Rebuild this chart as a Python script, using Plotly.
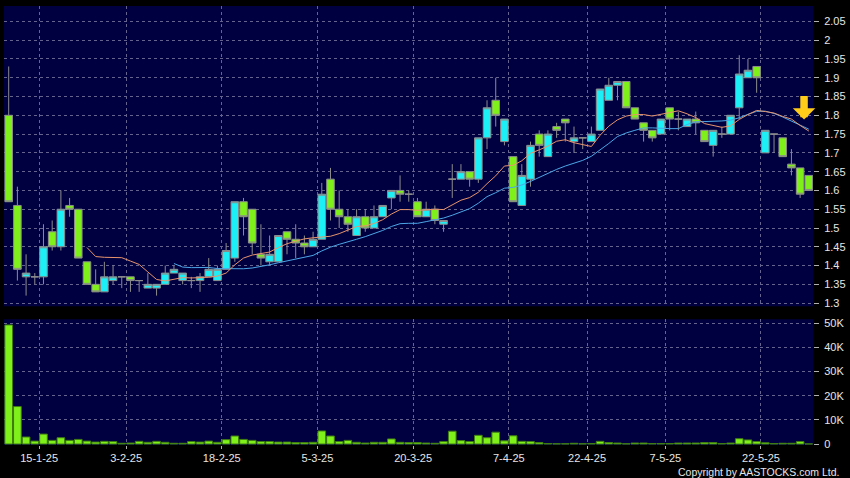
import plotly.graph_objects as go
import pandas as pd

# ---------------- data ----------------
dates = [
    "10-1-25", "13-1-25", "14-1-25", "15-1-25", "16-1-25", "17-1-25", "20-1-25", "21-1-25", "22-1-25",
    "23-1-25", "24-1-25", "27-1-25", "28-1-25",
    "3-2-25", "4-2-25", "5-2-25", "6-2-25", "7-2-25", "10-2-25", "11-2-25", "12-2-25", "13-2-25",
    "14-2-25", "17-2-25", "18-2-25", "19-2-25", "20-2-25", "21-2-25", "24-2-25", "25-2-25", "26-2-25",
    "27-2-25", "28-2-25",
    "3-3-25", "4-3-25", "5-3-25", "6-3-25", "7-3-25", "10-3-25", "11-3-25", "12-3-25", "13-3-25",
    "14-3-25", "17-3-25", "18-3-25", "19-3-25", "20-3-25", "21-3-25", "24-3-25", "25-3-25", "26-3-25",
    "27-3-25", "28-3-25", "31-3-25",
    "1-4-25", "2-4-25", "3-4-25", "7-4-25", "8-4-25", "9-4-25", "10-4-25", "11-4-25", "14-4-25",
    "15-4-25", "16-4-25", "17-4-25", "22-4-25", "23-4-25", "24-4-25", "25-4-25", "28-4-25", "29-4-25",
    "30-4-25",
    "2-5-25", "6-5-25", "7-5-25", "8-5-25", "9-5-25", "12-5-25", "13-5-25", "14-5-25", "15-5-25",
    "16-5-25", "19-5-25", "20-5-25", "21-5-25", "22-5-25", "23-5-25", "26-5-25", "27-5-25", "28-5-25",
    "29-5-25", "30-5-25",
]

open_ = [
    1.80, 1.56, 1.37, 1.37, 1.37, 1.49, 1.45, 1.56, 1.55, 1.41,
    1.35, 1.33, 1.36, 1.37, 1.37, 1.36, 1.34, 1.34, 1.35, 1.38,
    1.36, 1.36, 1.36, 1.37, 1.36, 1.39, 1.42, 1.57, 1.55, 1.43,
    1.41, 1.41, 1.49, 1.47, 1.46, 1.45, 1.47, 1.63, 1.55, 1.53,
    1.48, 1.53, 1.50, 1.53, 1.58, 1.60, 1.59, 1.57, 1.53, 1.55,
    1.51, 1.63, 1.63, 1.65, 1.63, 1.74, 1.84, 1.73, 1.69, 1.56,
    1.63, 1.75, 1.69, 1.77, 1.79, 1.73, 1.74, 1.73, 1.76, 1.84,
    1.88, 1.89, 1.82, 1.78, 1.76, 1.75, 1.82, 1.79, 1.77, 1.79,
    1.76, 1.72, 1.75, 1.75, 1.82, 1.90, 1.93, 1.70, 1.75, 1.74,
    1.67, 1.66, 1.64,
]
high = [
    1.93, 1.61, 1.43, 1.38, 1.51, 1.52, 1.60, 1.58, 1.55, 1.41,
    1.39, 1.41, 1.40, 1.37, 1.37, 1.36, 1.38, 1.35, 1.40, 1.40,
    1.38, 1.37, 1.38, 1.42, 1.40, 1.46, 1.57, 1.58, 1.55, 1.51,
    1.48, 1.48, 1.49, 1.51, 1.48, 1.49, 1.62, 1.66, 1.60, 1.55,
    1.55, 1.55, 1.56, 1.56, 1.60, 1.64, 1.60, 1.58, 1.57, 1.56,
    1.52, 1.67, 1.67, 1.65, 1.74, 1.84, 1.90, 1.79, 1.69, 1.67,
    1.73, 1.76, 1.76, 1.78, 1.79, 1.77, 1.74, 1.77, 1.87, 1.90,
    1.89, 1.89, 1.82, 1.78, 1.76, 1.79, 1.82, 1.81, 1.79, 1.81,
    1.76, 1.76, 1.77, 1.80, 1.96, 1.95, 1.93, 1.76, 1.75, 1.74,
    1.71, 1.66, 1.64,
]
low = [
    1.57, 1.36, 1.32, 1.35, 1.35, 1.44, 1.44, 1.53, 1.42, 1.35,
    1.33, 1.33, 1.35, 1.34, 1.33, 1.33, 1.34, 1.32, 1.35, 1.38,
    1.35, 1.34, 1.33, 1.37, 1.36, 1.39, 1.41, 1.48, 1.43, 1.40,
    1.40, 1.41, 1.43, 1.42, 1.43, 1.45, 1.47, 1.52, 1.50, 1.49,
    1.48, 1.49, 1.50, 1.53, 1.55, 1.57, 1.57, 1.53, 1.53, 1.51,
    1.49, 1.58, 1.63, 1.61, 1.62, 1.71, 1.77, 1.72, 1.57, 1.56,
    1.61, 1.69, 1.69, 1.74, 1.73, 1.70, 1.71, 1.73, 1.76, 1.84,
    1.84, 1.82, 1.79, 1.73, 1.73, 1.75, 1.76, 1.76, 1.77, 1.75,
    1.73, 1.69, 1.74, 1.75, 1.79, 1.90, 1.86, 1.70, 1.70, 1.69,
    1.64, 1.58, 1.60,
]
close = [
    1.57, 1.39, 1.38, 1.37, 1.45, 1.45, 1.55, 1.55, 1.42, 1.35,
    1.33, 1.37, 1.37, 1.37, 1.36, 1.36, 1.35, 1.35, 1.38, 1.39,
    1.38, 1.36, 1.37, 1.39, 1.39, 1.44, 1.57, 1.53, 1.46, 1.42,
    1.43, 1.48, 1.47, 1.46, 1.45, 1.47, 1.59, 1.55, 1.53, 1.51,
    1.53, 1.50, 1.53, 1.56, 1.60, 1.59, 1.59, 1.53, 1.55, 1.52,
    1.52, 1.63, 1.65, 1.63, 1.74, 1.82, 1.80, 1.79, 1.57, 1.64,
    1.72, 1.72, 1.75, 1.76, 1.78, 1.74, 1.74, 1.75, 1.87, 1.88,
    1.89, 1.82, 1.79, 1.76, 1.74, 1.79, 1.79, 1.79, 1.79, 1.78,
    1.73, 1.76, 1.75, 1.80, 1.91, 1.92, 1.90, 1.76, 1.75, 1.69,
    1.66, 1.59, 1.60,
]
volume = [
    49300, 15500, 2900, 1200, 4100, 1500, 2600, 1500, 1900, 1200,
    800, 1100, 1000, 300, 400, 1100, 700, 1100, 700, 300,
    300, 1000, 800, 1200, 700, 1800, 3300, 1900, 1500, 1000,
    1000, 800, 800, 600, 600, 700, 5400, 3300, 1000, 1500,
    700, 400, 700, 700, 2100, 700, 600, 600, 400, 300,
    1000, 5300, 1400, 1000, 3600, 2600, 4900, 1300, 3400, 1100,
    1000, 600, 200, 100, 100, 300, 100, 200, 1100, 600,
    400, 100, 400, 400, 200, 200, 200, 400, 400, 400,
    600, 600, 200, 400, 2200, 1700, 1000, 500, 200, 300,
    300, 1000, 50,
]

tick_dates = ["15-1-25", "3-2-25", "18-2-25", "5-3-25", "20-3-25", "7-4-25", "22-4-25", "7-5-25", "22-5-25"]
price_ticks = [1.30, 1.35, 1.40, 1.45, 1.50, 1.55, 1.60, 1.65, 1.70, 1.75, 1.80, 1.85, 1.90, 1.95, 2.00, 2.05]
price_tick_labels = ["1.3", "1.35", "1.4", "1.45", "1.5", "1.55", "1.6", "1.65", "1.7", "1.75", "1.8",
                     "1.85", "1.9", "1.95", "2", "2.05"]
vol_ticks = [0, 10000, 20000, 30000, 40000, 50000]
vol_tick_labels = ["0", "10K", "20K", "30K", "40K", "50K"]

# ---------------- styles ----------------
UP = "#1CEFF5"
DOWN = "#80F01A"
EDGE = "#8c8c8c"
GRID = "#64648f"
ORANGE = "#E8946C"
BLUE = "#4CA6E6"
TXT = "#e6e6e6"

x_idx = list(range(len(dates)))
grid_vals = [dates.index(d) + 0.5 for d in tick_dates]

# moving averages of the closes (10 and 20 days)
ma10 = pd.Series(close).rolling(10).mean()
ma20 = pd.Series(close).rolling(20).mean()
ma10 = [None if pd.isna(v) else v for v in ma10]
ma20 = [None if pd.isna(v) else v for v in ma20]

fig = go.Figure()
fig.add_trace(go.Candlestick(
    x=x_idx, open=open_, high=high, low=low, close=close,
    increasing=dict(fillcolor=UP, line=dict(color=EDGE, width=1)),
    decreasing=dict(fillcolor=DOWN, line=dict(color=EDGE, width=1)),
    whiskerwidth=0, hovertext=dates, showlegend=False, xaxis="x", yaxis="y",
))
fig.add_trace(go.Scatter(x=x_idx, y=ma20, mode="lines", line=dict(color=BLUE, width=1),
                         showlegend=False, hoverinfo="skip", xaxis="x", yaxis="y"))
fig.add_trace(go.Scatter(x=x_idx, y=ma10, mode="lines", line=dict(color=ORANGE, width=1),
                         showlegend=False, hoverinfo="skip", xaxis="x", yaxis="y"))
fig.add_trace(go.Bar(
    x=x_idx, y=volume, width=0.88,
    marker=dict(color=DOWN, line=dict(color="#3f7d12", width=1)),
    hovertext=dates, showlegend=False, xaxis="x2", yaxis="y2",
))

xr = [-0.54, 92.48]
fig.update_layout(
    width=850, height=478,
    paper_bgcolor="#000000", plot_bgcolor="#000040",
    margin=dict(l=4, r=33, t=5, b=33, pad=0),
    font=dict(family="Liberation Sans, Arial, sans-serif", size=11, color=TXT),
    showlegend=False, boxgap=0.13, boxgroupgap=0, bargap=0.1,
    xaxis=dict(domain=[0, 1], anchor="y", range=xr, tickmode="array", tickvals=grid_vals,
               showticklabels=False, ticks="", showgrid=True, gridcolor=GRID, griddash="3px,3px",
               gridwidth=1, zeroline=False, showline=False, rangeslider=dict(visible=False)),
    yaxis=dict(domain=[0.3159, 1], anchor="x", range=[1.2915, 2.091], side="right",
               tickmode="array", tickvals=price_ticks, ticktext=price_tick_labels,
               ticks="outside", ticklen=5, tickcolor="#b0b0b0", tickwidth=1,
               showgrid=True, gridcolor=GRID, griddash="3px,3px", gridwidth=1,
               zeroline=False, showline=False, ticklabelstandoff=3),
    xaxis2=dict(domain=[0, 1], anchor="y2", range=xr, tickmode="array", tickvals=grid_vals,
                ticktext=tick_dates, ticks="outside", ticklen=3, tickcolor="#b0b0b0",
                showgrid=True, gridcolor=GRID, griddash="3px,3px", gridwidth=1,
                zeroline=False, showline=False),
    yaxis2=dict(domain=[0, 0.2864], anchor="x2", range=[-413, 51653], side="right",
                tickmode="array", tickvals=vol_ticks, ticktext=vol_tick_labels,
                ticks="outside", ticklen=5, tickcolor="#b0b0b0", tickwidth=1,
                showgrid=True, gridcolor=GRID, griddash="3px,3px", gridwidth=1,
                zeroline=False, showline=False, ticklabelstandoff=3),
)

# signal arrow
fig.add_annotation(x=91.45, y=1.789, xref="x", yref="y", text="", showarrow=True,
                   ax=0, ay=-25, arrowhead=1, arrowsize=0.5, arrowwidth=7.5,
                   arrowcolor="#FFCC1A", standoff=0)

fig.add_annotation(text="Copyright by AASTOCKS.com Ltd.", xref="paper", yref="paper",
                   x=1.0344, y=-0.0614, xanchor="right", yanchor="middle", showarrow=False,
                   font=dict(size=10.5, color=TXT))

fig.write_html("out.html", config={"displayModeBar": False},
               post_script="document.body.style.margin='0px';document.body.style.background='#000';")
